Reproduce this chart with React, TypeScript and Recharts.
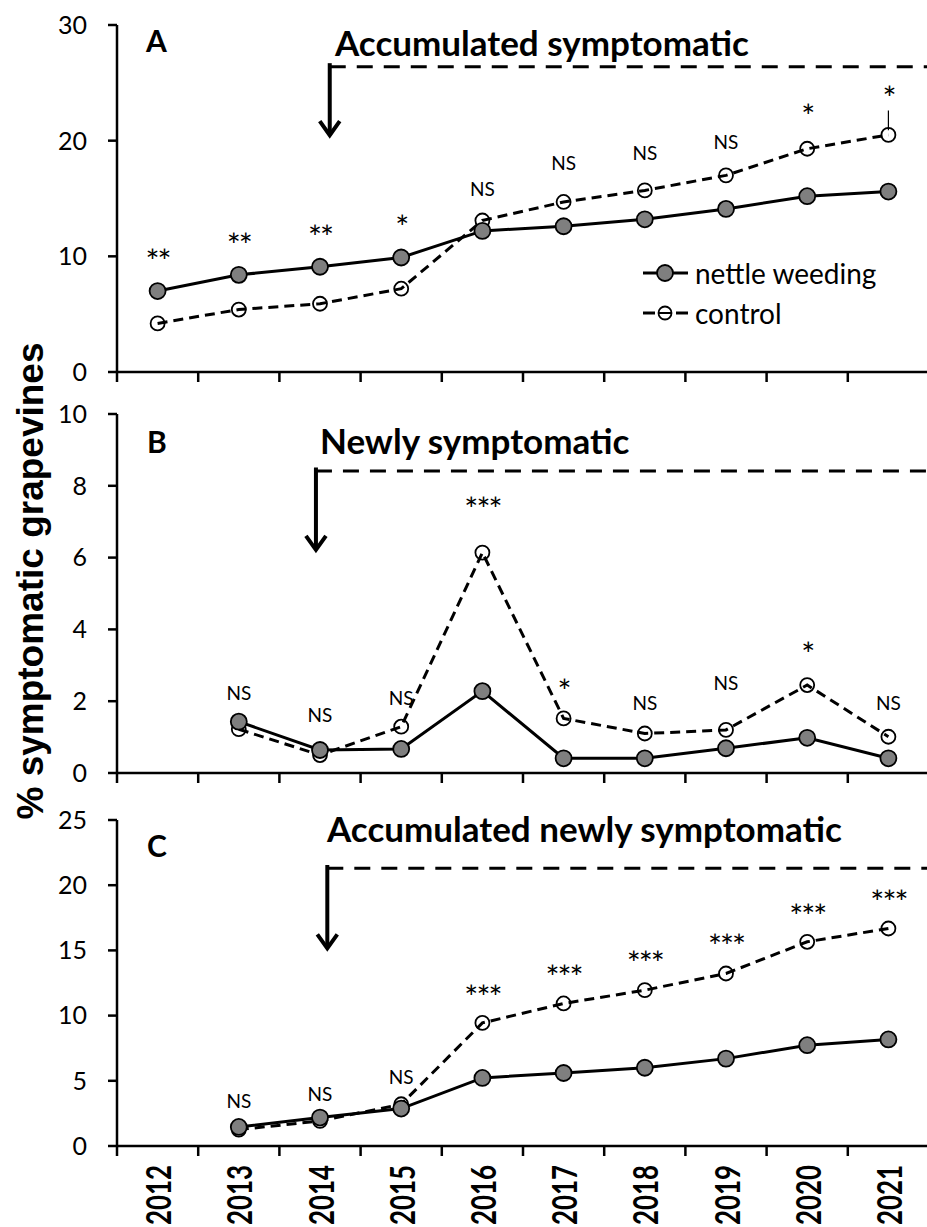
import React from 'react';
import { LineChart, Line, XAxis, YAxis, ReferenceLine, ReferenceDot } from 'recharts';

const years = ['2012', '2013', '2014', '2015', '2016', '2017', '2018', '2019', '2020', '2021'];

// A: accumulated symptomatic (%)
const nettleA = [7.0, 8.4, 9.1, 9.9, 12.2, 12.6, 13.2, 14.1, 15.2, 15.6];
const controlA = [4.2, 5.4, 5.9, 7.2, 13.1, 14.7, 15.7, 17.0, 19.3, 20.5];
const sigA = ['**', '**', '**', '*', 'NS', 'NS', 'NS', 'NS', '*', '*'];
const sigAtA = [10.4, 11.75, 12.45, 13.3, 15.9, 18.1, 19.0, 19.9, 22.9, 24.5];
const whiskerA: [number, number] = [20.9, 22.6];

// B: newly symptomatic (%)
const nettleB = [null, 1.43, 0.64, 0.67, 2.28, 0.41, 0.41, 0.69, 0.98, 0.41];
const controlB = [null, 1.22, 0.5, 1.29, 6.14, 1.52, 1.1, 1.2, 2.45, 1.01];
const sigB = ['', 'NS', 'NS', 'NS', '***', '*', 'NS', 'NS', '*', 'NS'];
const sigAtB = [null, 2.23, 1.62, 2.09, 7.6, 2.53, 1.95, 2.51, 3.57, 1.95];

// C: accumulated newly symptomatic (%)
const nettleC = [null, 1.46, 2.18, 2.87, 5.22, 5.6, 6.0, 6.7, 7.73, 8.17];
const controlC = [null, 1.26, 1.92, 3.2, 9.44, 10.93, 11.95, 13.23, 15.66, 16.68];
const sigC = ['', 'NS', 'NS', 'NS', '***', '***', '***', '***', '***', '***'];
const sigAtC = [null, 3.5, 4.04, 5.35, 12.1, 13.64, 14.7, 16.0, 18.3, 19.4];

const boundaries = [0, 1, 2, 3, 4, 5, 6, 7, 8, 9, 10];
const centers = years.map((_, i) => i + 0.5);

const FONT = 'Lato, "Open Sans", sans-serif';
const CHART_W = 940;

function WeedingArrow(props: any) {
  const { x1, y1, x2, y2 } = props;
  return (
    <g>
      <line x1={x1} y1={y1} x2={x2} y2={y2 - 3} stroke="#000" strokeWidth={4} />
      <polyline
        points={`${x2 - 10},${y2 - 16} ${x2},${y2 - 2} ${x2 + 10},${y2 - 16}`}
        fill="none"
        stroke="#000"
        strokeWidth={4}
      />
    </g>
  );
}

const sigShape = (text: string) => (p: any) => {
  const star = text.startsWith('*');
  return (
    <text
      x={p.cx}
      y={p.cy}
      dy={star ? 8 : 0}
      textAnchor="middle"
      dominantBaseline="central"
      fontFamily={FONT}
      fontSize={star ? 33 : 19}
      letterSpacing={star ? -2 : 0}
      fill="#000"
    >
      {text}
    </text>
  );
};

function YearTick(props: any) {
  const { x, y, payload } = props;
  const label = years[Math.floor(payload.value)];
  return (
    <text
      x={x}
      y={y}
      transform={`rotate(-90, ${x}, ${y})`}
      textAnchor="end"
      dominantBaseline="central"
      fontFamily={FONT}
      fontWeight={700}
      fontSize={34}
      textLength={60}
      lengthAdjust="spacingAndGlyphs"
      fill="#000"
    >
      {label}
    </text>
  );
}

function LegendBox() {
  const row = { display: 'flex', alignItems: 'center', height: 40 } as const;
  const txt = { fontFamily: FONT, fontSize: 28, color: '#000', marginLeft: 5 } as const;
  return (
    <div style={{ position: 'absolute', left: 642, top: 253, width: 280 }}>
      <div style={row}>
        <svg width={48} height={20}>
          <line x1={1} y1={10} x2={46} y2={10} stroke="#000" strokeWidth={3} />
          <circle cx={23} cy={10} r={8} fill="#7f7f7f" stroke="#000" strokeWidth={1.8} />
        </svg>
        <span style={txt}>nettle weeding</span>
      </div>
      <div style={row}>
        <svg width={48} height={20}>
          <line x1={1} y1={10} x2={13} y2={10} stroke="#000" strokeWidth={3} />
          <line x1={17} y1={10} x2={29} y2={10} stroke="#000" strokeWidth={2} />
          <circle cx={23} cy={10} r={6.5} fill="none" stroke="#000" strokeWidth={1.8} />
          <line x1={34} y1={10} x2={46} y2={10} stroke="#000" strokeWidth={3} />
        </svg>
        <span style={txt}>control</span>
      </div>
    </div>
  );
}

type PanelProps = {
  top: number;
  marginTop: number;
  plotHeight: number;
  nettle: (number | null)[];
  control: (number | null)[];
  sig: string[];
  sigAt: (number | null)[];
  yMax: number;
  yTicks: number[];
  weedX: number;
  weedLevel: number;
  weedTip: number;
  showYears?: boolean;
  whisker?: [number, number];
};

function Panel(p: PanelProps) {
  const data = years.map((year, i) => ({
    x: centers[i],
    year,
    nettle: p.nettle[i],
    control: p.control[i],
  }));
  const gridAxisH = p.showYears ? 10 : 20;
  const yearsAxisH = p.showYears ? 71 : 0;
  const height = p.marginTop + p.plotHeight + gridAxisH + yearsAxisH;

  return (
    <div style={{ position: 'absolute', left: 0, top: p.top }}>
      <LineChart
        width={CHART_W}
        height={height}
        data={data}
        margin={{ top: p.marginTop, right: 11, left: 0, bottom: 0 }}
      >
        <XAxis
          xAxisId="grid"
          type="number"
          dataKey="x"
          domain={[0, 10]}
          ticks={boundaries}
          interval={0}
          height={gridAxisH}
          tick={() => null}
          tickSize={10}
          axisLine={{ stroke: '#000', strokeWidth: 2.5 }}
          tickLine={{ stroke: '#000', strokeWidth: 2.5 }}
        />
        {p.showYears && (
          <XAxis
            xAxisId="years"
            type="number"
            dataKey="x"
            domain={[0, 10]}
            ticks={centers}
            interval={0}
            height={yearsAxisH}
            axisLine={false}
            tickLine={false}
            tickSize={0}
            tickMargin={9}
            tick={<YearTick />}
          />
        )}
        <YAxis
          type="number"
          domain={[0, p.yMax]}
          ticks={p.yTicks}
          interval={0}
          width={117}
          tickSize={9}
          tickMargin={21}
          axisLine={{ stroke: '#000', strokeWidth: 2.5 }}
          tickLine={{ stroke: '#000', strokeWidth: 2.5 }}
          tick={{ fontFamily: FONT, fontSize: 25, fill: '#000' }}
        />

        {/* weeding start: dashed span + arrow */}
        <ReferenceLine
          xAxisId="grid"
          segment={[
            { x: p.weedX, y: p.weedLevel },
            { x: 10, y: p.weedLevel },
          ]}
          stroke="#000"
          strokeWidth={3}
          strokeDasharray="16 11"
        />
        <ReferenceLine
          xAxisId="grid"
          segment={[
            { x: p.weedX, y: p.weedLevel + 0.01 * p.yMax },
            { x: p.weedX, y: p.weedTip },
          ]}
          shape={WeedingArrow}
        />

        {p.whisker && (
          <ReferenceLine
            xAxisId="grid"
            segment={[
              { x: centers[9], y: p.whisker[0] },
              { x: centers[9], y: p.whisker[1] },
            ]}
            stroke="#000"
            strokeWidth={1.2}
          />
        )}

        <Line
          xAxisId="grid"
          dataKey="control"
          name="control"
          type="linear"
          stroke="#000"
          strokeWidth={3}
          strokeDasharray="10 6"
          dot={{ r: 7, fill: 'none', stroke: '#000', strokeWidth: 1.8, strokeDasharray: 'none' }}
          activeDot={false}
          isAnimationActive={false}
        />
        <Line
          xAxisId="grid"
          dataKey="nettle"
          name="nettle weeding"
          type="linear"
          stroke="#000"
          strokeWidth={3}
          dot={{ r: 8, fill: '#7f7f7f', stroke: '#000', strokeWidth: 1.8 }}
          activeDot={false}
          isAnimationActive={false}
        />

        {p.sig.map((s, i) =>
          s && p.sigAt[i] != null ? (
            <ReferenceDot
              key={i}
              xAxisId="grid"
              x={centers[i]}
              y={p.sigAt[i] as number}
              r={0}
              shape={sigShape(s)}
            />
          ) : null
        )}
      </LineChart>
    </div>
  );
}

export default function App() {
  return (
    <div
      style={{
        position: 'absolute',
        left: 0,
        top: 0,
        width: 927,
        height: 1227,
        overflow: 'hidden',
        background: '#fff',
      }}
    >
      <Panel
        top={0}
        marginTop={25}
        plotHeight={347}
        nettle={nettleA}
        control={controlA}
        sig={sigA}
        sigAt={sigAtA}
        yMax={30}
        yTicks={[0, 10, 20, 30]}
        weedX={2.62}
        weedLevel={26.4}
        weedTip={20.3}
        whisker={whiskerA}
      />
      <LegendBox />
      <Panel
        top={390}
        marginTop={24}
        plotHeight={359}
        nettle={nettleB}
        control={controlB}
        sig={sigB}
        sigAt={sigAtB}
        yMax={10}
        yTicks={[0, 2, 4, 6, 8, 10]}
        weedX={2.45}
        weedLevel={8.41}
        weedTip={6.16}
      />
      <Panel
        top={800}
        marginTop={20}
        plotHeight={326}
        nettle={nettleC}
        control={controlC}
        sig={sigC}
        sigAt={sigAtC}
        yMax={25}
        yTicks={[0, 5, 10, 15, 20, 25]}
        weedX={2.59}
        weedLevel={21.3}
        weedTip={15.0}
        showYears
      />

      {/* panel letters, titles and the shared y-axis title */}
      <svg
        width={927}
        height={1227}
        style={{ position: 'absolute', left: 0, top: 0, pointerEvents: 'none' }}
      >
        <g fontFamily={FONT} fontWeight={700} fill="#000" dominantBaseline="central">
          <text x={146} y={40} fontSize={30}>A</text>
          <text x={335} y={42} fontSize={35}>Accumulated symptomatic</text>
          <text x={147} y={441} fontSize={30}>B</text>
          <text x={320} y={440} fontSize={35}>Newly symptomatic</text>
          <text x={147} y={845} fontSize={30}>C</text>
          <text x={327} y={828} fontSize={35}>Accumulated newly symptomatic</text>
        </g>
        <text
          x={43}
          y={581}
          transform="rotate(-90, 43, 581)"
          textAnchor="middle"
          fontFamily='"Liberation Sans", Arial, sans-serif'
          fontWeight={700}
          fontSize={37}
          fill="#000"
        >
          % symptomatic grapevines
        </text>
      </svg>
    </div>
  );
}
